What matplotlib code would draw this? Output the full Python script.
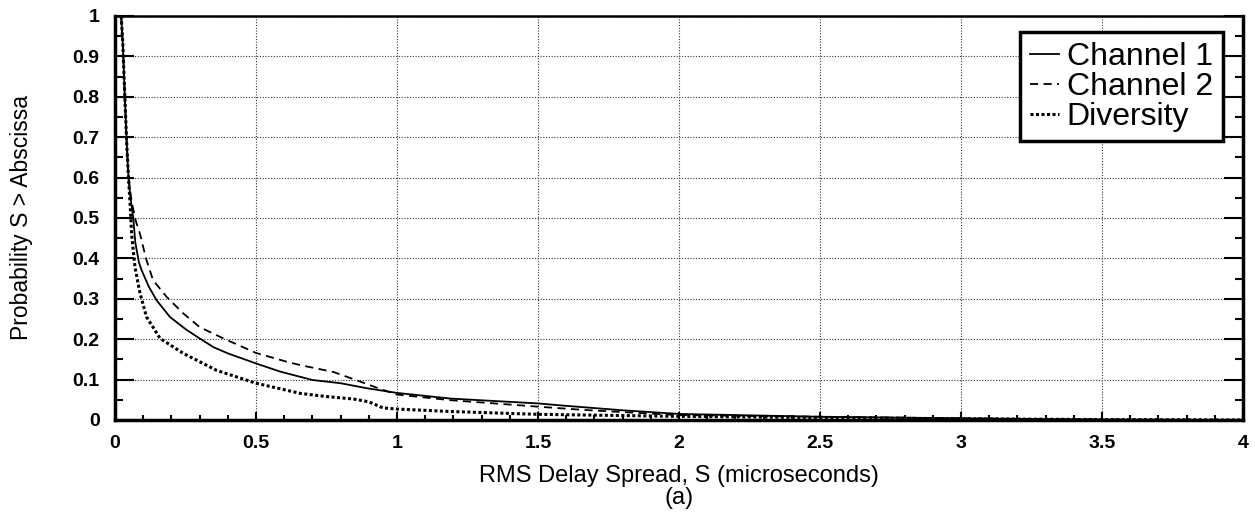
import numpy as np
import matplotlib
matplotlib.use('Agg')
import matplotlib.pyplot as plt
from matplotlib.ticker import MultipleLocator

plt.rcParams['font.family'] = ['Liberation Sans', 'DejaVu Sans']

# data (delay spread in microseconds, probability)
x_ch1 = [0.022, 0.028, 0.035, 0.042, 0.048, 0.055, 0.065, 0.072, 0.085, 0.095, 0.12, 0.148,
         0.195, 0.25, 0.30, 0.35, 0.40, 0.50, 0.585, 0.656, 0.70, 0.80, 0.89, 1.0, 1.19,
         1.5, 1.6, 1.8, 2.0, 2.5, 3.0, 3.5, 4.0]
y_ch1 = [1.0, 0.93, 0.80, 0.68, 0.60, 0.55, 0.50, 0.44, 0.39, 0.37, 0.33, 0.296,
         0.255, 0.225, 0.202, 0.18, 0.165, 0.14, 0.12, 0.107, 0.099, 0.091, 0.079, 0.067, 0.053,
         0.041, 0.035, 0.024, 0.015, 0.008, 0.004, 0.001, 0.0]

x_ch2 = [0.022, 0.028, 0.035, 0.042, 0.048, 0.059, 0.075, 0.089, 0.11, 0.135, 0.183, 0.242,
         0.30, 0.384, 0.50, 0.61, 0.656, 0.774, 0.85, 0.94, 1.0, 1.19, 1.5, 1.66, 2.0,
         2.5, 3.0, 3.5, 4.0]
y_ch2 = [1.0, 0.93, 0.80, 0.68, 0.60, 0.54, 0.49, 0.46, 0.40, 0.346, 0.305, 0.264,
         0.23, 0.202, 0.166, 0.144, 0.136, 0.119, 0.10, 0.077, 0.063, 0.049, 0.033, 0.025, 0.012,
         0.008, 0.004, 0.001, 0.0]

x_div = [0.022, 0.028, 0.035, 0.042, 0.048, 0.053, 0.059, 0.071, 0.089, 0.112, 0.16, 0.242,
         0.36, 0.50, 0.656, 0.75, 0.845, 0.90, 0.95, 1.0, 1.19, 1.5, 2.0, 2.5, 3.0, 3.5, 4.0]
y_div = [1.0, 0.93, 0.80, 0.68, 0.60, 0.543, 0.46, 0.378, 0.313, 0.255, 0.202, 0.165,
         0.123, 0.091, 0.066, 0.058, 0.052, 0.045, 0.030, 0.027, 0.021, 0.014, 0.009, 0.006,
         0.003, 0.001, 0.0]

xticks = [0, 0.5, 1, 1.5, 2, 2.5, 3, 3.5, 4]
xtick_labels = ['0', '0.5', '1', '1.5', '2', '2.5', '3', '3.5', '4']
yticks = [0, 0.1, 0.2, 0.3, 0.4, 0.5, 0.6, 0.7, 0.8, 0.9, 1]
ytick_labels = ['0', '0.1', '0.2', '0.3', '0.4', '0.5', '0.6', '0.7', '0.8', '0.9', '1']

fig = plt.figure(figsize=(12.55, 5.24), dpi=100)
ax = fig.add_axes([0.0916, 0.1985, 0.8988, 0.771])

ax.plot(x_ch1, y_ch1, color='black', lw=1.3, label='Channel 1')
ax.plot(x_ch2, y_ch2, color='black', lw=1.3, linestyle=(0, (4.5, 3)), label='Channel 2')
ax.plot(x_div, y_div, color='black', lw=2.2, linestyle=(0, (1, 0.8)), label='Diversity')

ax.set_xlim(0, 4)
ax.set_ylim(0, 1)
ax.set_xticks(xticks, xtick_labels, fontweight='bold', fontsize=14)
ax.set_yticks(yticks, ytick_labels, fontweight='bold', fontsize=14)
ax.xaxis.set_minor_locator(MultipleLocator(0.1))
ax.yaxis.set_minor_locator(MultipleLocator(0.05))

ax.tick_params(axis='both', which='both', direction='in', width=1.5)
ax.tick_params(axis='y', which='major', length=14, pad=11)
ax.tick_params(axis='y', which='minor', length=6)
ax.tick_params(axis='x', which='major', length=6, pad=11)
ax.tick_params(axis='x', which='minor', length=3.5)
ax.tick_params(axis='y', which='both', right=True)

ax.grid(True, which='major', linestyle=(0, (1, 1.5)), color='#333333', lw=0.8)

for s in ax.spines.values():
    s.set_linewidth(2.5)
ax.spines['top'].set_linewidth(1.8)

ax.set_xlabel('RMS Delay Spread, S (microseconds)\n(a)', fontsize=17, linespacing=1.0)
ax.xaxis.set_label_coords(0.5, -0.112)
ax.xaxis.label.set_va('top')
ax.set_ylabel('Probability S > Abscissa', fontsize=16.5)
ax.yaxis.set_label_coords(-0.073, 0.5)

leg = ax.legend(loc='upper right', bbox_to_anchor=(0.982, 0.960), borderaxespad=0,
                prop={'size': 23}, handlelength=0.9, handletextpad=0.25,
                labelspacing=0.0, borderpad=0.3, fancybox=False, framealpha=1,
                edgecolor='black')
leg.get_frame().set_linewidth(2.5)

fig.savefig('out.png', dpi=100)
